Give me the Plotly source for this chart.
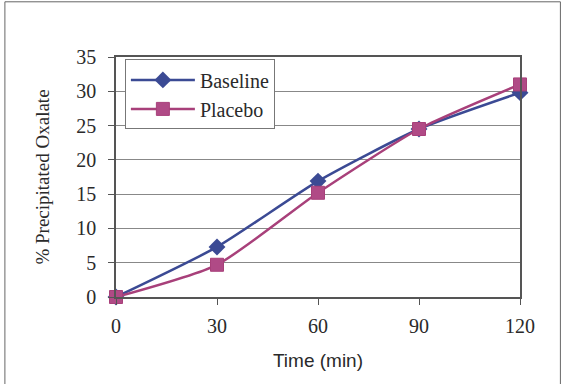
import plotly.graph_objects as go

time_min = [0, 30, 60, 90, 120]
baseline = [0, 7.3, 16.9, 24.5, 29.8]
placebo = [0, 4.7, 15.2, 24.5, 31.0]
y_ticks = [0, 5, 10, 15, 20, 25, 30, 35]
x_ticks = [0, 30, 60, 90, 120]

blue = "#3b4a94"
magenta = "#a8407a"

fig = go.Figure()
fig.add_trace(go.Scatter(
    x=time_min, y=baseline, name="Baseline", mode="lines+markers",
    line=dict(color=blue, width=2.5, shape="spline", smoothing=0.6),
    marker=dict(symbol="diamond", size=13, color=blue),
    cliponaxis=False))
fig.add_trace(go.Scatter(
    x=time_min, y=placebo, name="Placebo", mode="lines+markers",
    line=dict(color=magenta, width=2.5, shape="spline", smoothing=0.6),
    marker=dict(symbol="square", size=13, color="#b04a86", line=dict(color=magenta, width=1)),
    cliponaxis=False))

fig.update_layout(
    width=567, height=384,
    margin=dict(l=116, r=47, t=57, b=87),
    paper_bgcolor="white", plot_bgcolor="white",
    font=dict(family="Liberation Serif", size=20, color="#2a2a2a"),
    showlegend=True,
    legend=dict(x=0.022, y=0.99, xanchor="left", yanchor="top",
                bordercolor="#777777", borderwidth=1, bgcolor="white",
                font=dict(family="Liberation Serif", size=20, color="#2a2a2a"),
                tracegroupgap=0, itemwidth=64),
    xaxis=dict(range=[0, 120], tickvals=x_ticks, showgrid=False,
               showline=True, linecolor="#555555", linewidth=1.5, mirror=True,
               ticks="outside", ticklen=6, tickcolor="#555555",
               ticklabelstandoff=4,
               zeroline=False,
               title=dict(text="Time (min)", font=dict(family="Liberation Sans", size=19, color="#2a2a2a"), standoff=18)),
    yaxis=dict(range=[0, 35], tickvals=y_ticks, showgrid=True, gridcolor="#888888", gridwidth=1,
               showline=True, linecolor="#555555", linewidth=1.5, mirror=True,
               ticks="outside", ticklen=6, tickcolor="#555555",
               ticklabelstandoff=8,
               zeroline=False,
               title=dict(text="% Precipitated Oxalate", font=dict(family="Liberation Serif", size=19, color="#2a2a2a"), standoff=22)),
    shapes=[dict(type="rect", xref="paper", yref="paper", x0=-0.275, x1=1.1, y0=-0.37, y1=1.23,
                 line=dict(color="#666666", width=1))]
)

fig.write_html("out.html")
